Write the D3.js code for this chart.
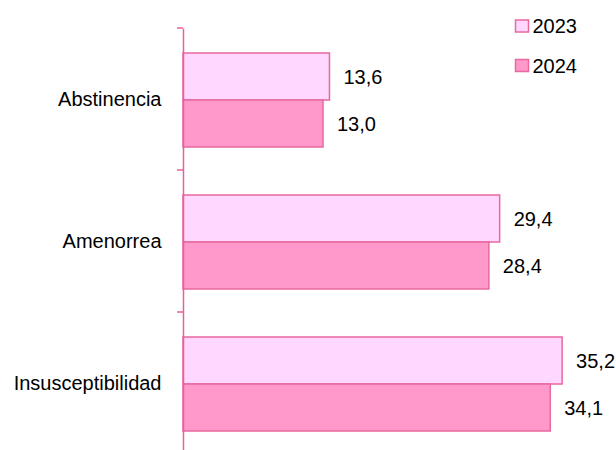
<!DOCTYPE html>
<html><head><meta charset="utf-8">
<script src="https://cdn.jsdelivr.net/npm/d3@7"></script>
<style>body{margin:0;background:#fff}svg{display:block}text{font-family:"Liberation Sans",Arial,sans-serif;fill:#000}</style>
</head><body><svg id="c" width="616" height="450"></svg>
<script>
const categories = ["Abstinencia", "Amenorrea", "Insusceptibilidad"];
const series = ["2023", "2024"];
const values2023 = [13.6, 29.4, 35.2];
const values2024 = [13.0, 28.4, 34.1];
const fills = ["#FFD7FF", "#FF99CC"];
const strokes = ["#E8689F", "#E8689F"];

(function () {
const svg = d3.select("#c");
const FS = 20;
const x0 = 183, plotTop = 28, bandH = 142;
const x = d3.scaleLinear().domain([0, 40]).range([x0, x0 + 430.8]);
const y = d3.scaleBand().domain(categories).range([plotTop, plotTop + bandH * 3]).paddingInner(0).paddingOuter(0);
const yi = d3.scaleBand().domain(series).range([25, 119]);

function label(parent, tx, ty, txt, anchor) {
  return parent.append("text")
    .attr("x", tx).attr("y", ty)
    .attr("dy", "0.36em").attr("font-size", FS)
    .attr("text-anchor", anchor || "start").text(txt);
}

const data = categories.map((c, i) => ({c, v: [values2023[i], values2024[i]]}));
const g = svg.append("g");
data.forEach(d => {
  series.forEach((s, j) => {
    const v = d.v[j];
    const yy = y(d.c) + yi(s);
    g.append("rect").attr("x", x(0)).attr("y", yy).attr("width", x(v) - x(0)).attr("height", yi.bandwidth())
      .attr("fill", fills[j]).attr("stroke", strokes[j]).attr("stroke-width", 1.5);
    label(g, x(v) + 14, yy + yi.bandwidth() / 2, d3.format(".1f")(v).replace(".", ","));
  });
});

const ax = svg.append("g").attr("transform", `translate(${x0},0)`)
  .call(d3.axisLeft(y).tickSize(0).tickPadding(21.5));
ax.select(".domain").attr("stroke", "#E8609A").attr("stroke-width", 1.5);
ax.selectAll(".tick text")
  .attr("dy", "0.36em")
  .attr("font-size", FS).attr("font-family", "Liberation Sans, Arial, sans-serif").attr("fill", "#000");
const bounds = [0, 1, 2, 3].map(i => plotTop + bandH * i);
svg.append("g").selectAll("line").data(bounds).join("line")
  .attr("x1", x0 - 6).attr("x2", x0).attr("y1", d => d).attr("y2", d => d)
  .attr("stroke", "#E8609A").attr("stroke-width", 1.5);

const leg = svg.append("g");
series.forEach((s, j) => {
  const ly = 26 + j * 39.5;
  leg.append("rect").attr("x", 515.5).attr("y", ly - 6).attr("width", 13).attr("height", 12)
    .attr("fill", fills[j]).attr("stroke", strokes[j]).attr("stroke-width", 1.5);
  label(leg, 532.5, ly, s);
});
})();
</script></body></html>
